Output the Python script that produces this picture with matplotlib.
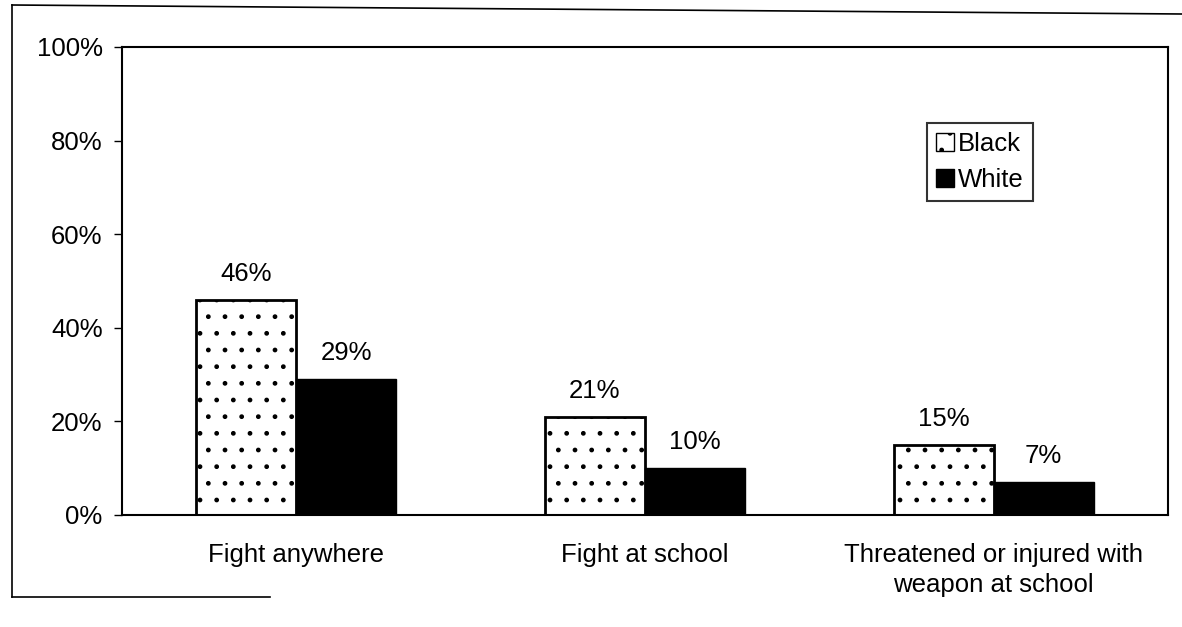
import matplotlib.pyplot as plt
import numpy as np
from matplotlib.lines import Line2D
from matplotlib.patches import Patch

plt.rcParams['font.family'] = ['Liberation Sans', 'DejaVu Sans']
plt.rcParams['hatch.linewidth'] = 1.0

categories = ["Fight anywhere", "Fight at school", "Threatened or injured with\nweapon at school"]
black_vals = [46, 21, 15]
white_vals = [29, 10, 7]
series_names = ["Black", "White"]
yticks = [0, 20, 40, 60, 80, 100]

FS = 18.5
fig = plt.figure(figsize=(11.82, 6.27), dpi=100)
W, H = 1182, 627
ax = fig.add_axes([122 / W, 1 - 515 / H, (1168 - 122) / W, (515 - 47) / H])

x = np.arange(len(categories))
bw = 0.287
b1 = ax.bar(x - bw / 2, black_vals, bw, facecolor='white', edgecolor='black',
            linewidth=2, hatch='.', label=series_names[0])
b2 = ax.bar(x + bw / 2, white_vals, bw, facecolor='black', edgecolor='black',
            linewidth=1, label=series_names[1])

for rect, v in zip(list(b1) + list(b2), black_vals + white_vals):
    ax.text(rect.get_x() + rect.get_width() / 2, v + 3, f"{v}%",
            ha='center', va='bottom', fontsize=FS)

ax.set_xlim(-0.5, len(categories) - 0.5)
ax.set_ylim(0, 100)
ax.set_yticks(yticks)
ax.set_yticklabels([f"{t}%" for t in yticks], fontsize=FS)
ax.tick_params(axis='y', direction='out', length=6, width=1, pad=8)
ax.set_xticks(x)
ax.set_xticklabels(categories, fontsize=FS, linespacing=1.35)
ax.tick_params(axis='x', length=0, pad=20)
for s in ax.spines.values():
    s.set_linewidth(1.5)

leg = ax.legend(handles=[Patch(facecolor='white', edgecolor='black', hatch='.', label='Black'),
                         Patch(facecolor='black', edgecolor='black', label='White')],
                loc='upper left', bbox_to_anchor=((927 - 122) / (1168 - 122), 1 - (123 - 47) / (515 - 47)),
                fontsize=FS, frameon=True, fancybox=False, edgecolor='black',
                handlelength=0.7, handleheight=0.7, handletextpad=0.15,
                borderpad=0.35, labelspacing=0.45, borderaxespad=0)
leg.get_frame().set_linewidth(1.5)

# outer frame lines
fig.add_artist(Line2D([12 / W, 12 / W], [1 - 5 / H, 1 - 597 / H], color='black', lw=1.2))
fig.add_artist(Line2D([12 / W, 1.0], [1 - 5 / H, 1 - 14 / H], color='black', lw=1.2))
fig.add_artist(Line2D([12 / W, 270 / W], [1 - 597 / H, 1 - 597 / H], color='black', lw=1.2))

fig.savefig('out.png', dpi=100)
